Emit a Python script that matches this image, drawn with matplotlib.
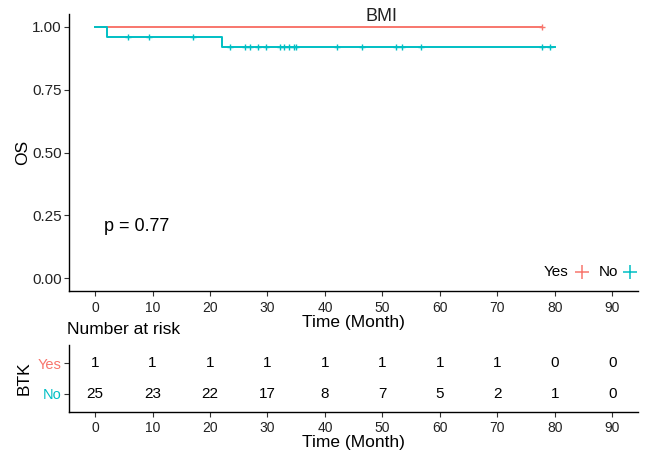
import matplotlib
matplotlib.use("Agg")
import matplotlib.pyplot as plt
import numpy as np

plt.rcParams['font.family'] = ['Liberation Sans', 'DejaVu Sans']

# ---- data ----
groups = ["Yes", "No"]
colors = {"Yes": "#F8766D", "No": "#00BFC4"}

yes_step_t = [0, 77.8]
yes_step_s = [1.0, 1.0]
yes_censor_t = [77.8]

no_step_t = [0, 2, 22, 80]
no_step_s = [1.0, 0.96, 0.918, 0.918]
no_censor_t = [5.8, 9.3, 17.0, 23.5, 26.0, 27.0, 28.3, 29.7, 32.2, 32.9, 33.8,
               34.7, 35.0, 42.1, 46.5, 52.4, 53.4, 56.7, 77.8, 79.2]

risk_times = [0, 10, 20, 30, 40, 50, 60, 70, 80, 90]
risk_yes = [1, 1, 1, 1, 1, 1, 1, 1, 0, 0]
risk_no = [25, 23, 22, 17, 8, 7, 5, 2, 1, 0]

y_ticks = [0.0, 0.25, 0.5, 0.75, 1.0]
y_ticklabels = ["0.00", "0.25", "0.50", "0.75", "1.00"]
p_text = "p = 0.77"
title = "BMI"

# ---- figure ----
fig = plt.figure(figsize=(6.49, 4.57), dpi=100)
W, H = 649, 457
L, R = 69.3 / W, 638 / W
ax = fig.add_axes([L, 1 - 291 / H, R - L, (291 - 14) / H])
axr = fig.add_axes([L, 1 - 411.7 / H, R - L, (411.7 - 345) / H])

def style(a):
    for s in ["top", "right"]:
        a.spines[s].set_visible(False)
    for s in ["left", "bottom"]:
        a.spines[s].set_linewidth(1.0)
        a.spines[s].set_color("black")
    a.tick_params(direction="out", length=3.5, width=0.8, color="#333333",
                  labelcolor="#222222", pad=2)
    a.tick_params(axis="x", labelsize=10, pad=4)
    a.tick_params(axis="y", labelsize=11)

style(ax)
style(axr)

def surv_s_at(t, st, ss):
    idx = np.searchsorted(st, t, side="right") - 1
    return np.asarray(ss)[idx]

ax.step(yes_step_t, yes_step_s, where="post", color=colors["Yes"], lw=1.4)
ax.plot(yes_censor_t, surv_s_at(yes_censor_t, yes_step_t, yes_step_s), "+",
        color=colors["Yes"], ms=4, mew=1.0)
ax.step(no_step_t, no_step_s, where="post", color=colors["No"], lw=1.4)
ax.plot(no_censor_t, surv_s_at(no_censor_t, no_step_t, no_step_s), "+",
        color=colors["No"], ms=4, mew=1.0)

ax.set_xlim(-4.5, 94.5)
ax.set_ylim(-0.05, 1.05)
ax.set_xticks(risk_times)
ax.set_yticks(y_ticks)
ax.set_yticklabels(y_ticklabels)
ax.set_xlabel("Time (Month)", fontsize=12.5, labelpad=0)
ax.set_ylabel("OS", fontsize=12.5, labelpad=1.5)
ax.text(1.6, 0.206, p_text, fontsize=13, va="center", ha="left")
ax.text(49.8, 1.04, title, fontsize=13, ha="center", va="center", color="#222222")

# legend (manual)
ly = 1 - 272 / H
fig.text(556.5 / W, ly, "Yes", fontsize=11, ha="center", va="center")
fig.text(608.5 / W, ly, "No", fontsize=11, ha="center", va="center")
fig.lines.append(matplotlib.lines.Line2D([581.7 / W], [ly], marker="+", ms=10, mew=1.1,
                                         color=colors["Yes"], transform=fig.transFigure))
fig.lines.append(matplotlib.lines.Line2D([630 / W], [ly], marker="+", ms=10, mew=1.1,
                                         color=colors["No"], transform=fig.transFigure))

# risk table
axr.set_xlim(-4.5, 94.5)
axr.set_ylim(0.4, 2.6)
axr.set_xticks(risk_times)
axr.set_yticks([2, 1])
axr.set_yticklabels(groups, fontsize=10.5)
for lab, g in zip(axr.get_yticklabels(), groups):
    lab.set_color(colors[g])
for t, n in zip(risk_times, risk_yes):
    axr.text(t, 2, str(n), ha="center", va="center", fontsize=11)
for t, n in zip(risk_times, risk_no):
    axr.text(t, 1, str(n), ha="center", va="center", fontsize=11)
axr.tick_params(axis="x", pad=3.5)
axr.set_xlabel("Time (Month)", fontsize=12.5, labelpad=0)
axr.set_ylabel("BTK", fontsize=12.5, labelpad=4.5)
fig.text(66.7 / W, 1 - 330 / H, "Number at risk", fontsize=12.5, ha="left", va="center")

fig.savefig("out.png", dpi=100)
